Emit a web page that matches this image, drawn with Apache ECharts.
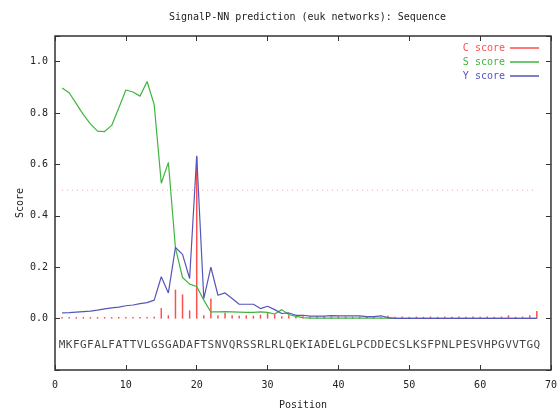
<!DOCTYPE html>
<html>
<head>
<meta charset="utf-8">
<script src="https://cdn.jsdelivr.net/npm/echarts@6/dist/echarts.min.js"></script>
<style>
  html, body { margin: 0; padding: 0; background: #fff; }
  #chart { width: 560px; height: 415px; }
</style>
</head>
<body>
<div id="chart"></div>
<script>
const sequence = 'MKFGFALFATTVLGSGADAFTSNVQRSSRLRLQEKIADELGLPCDDECSLKSFPNLPESVHPGVVTGQ'.split('');
const positions = sequence.map((_, i) => i + 1);

const cScore = [
    0.006, 0.006, 0.006, 0.006, 0.006, 0.006, 0.006, 0.006, 0.006, 0.006,
    0.006, 0.006, 0.006, 0.007, 0.041, 0.013, 0.113, 0.094, 0.032, 0.630,
    0.013, 0.078, 0.013, 0.023, 0.013, 0.011, 0.013, 0.011, 0.015, 0.023,
    0.017, 0.009, 0.013, 0.009, 0.009, 0.007, 0.009, 0.009, 0.008, 0.009,
    0.008, 0.007, 0.008, 0.007, 0.010, 0.007, 0.011, 0.007, 0.008, 0.007,
    0.008, 0.007, 0.008, 0.007, 0.008, 0.007, 0.008, 0.007, 0.008, 0.007,
    0.008, 0.007, 0.008, 0.013, 0.007, 0.008, 0.013, 0.030
];
const sScore = [
    0.898, 0.879, 0.837, 0.794, 0.758, 0.730, 0.728, 0.752, 0.820, 0.890,
    0.882, 0.866, 0.923, 0.833, 0.527, 0.608, 0.275, 0.160, 0.134, 0.125,
    0.072, 0.026, 0.026, 0.027, 0.026, 0.025, 0.024, 0.024, 0.026, 0.024,
    0.018, 0.035, 0.016, 0.009, 0.004, 0.002, 0.002, 0.002, 0.002, 0.002,
    0.002, 0.002, 0.002, 0.002, 0.002, 0.002, 0.002, 0.001, 0.001, 0.001,
    0.001, 0.001, 0.001, 0.001, 0.001, 0.001, 0.001, 0.001, 0.001, 0.001,
    0.001, 0.001, 0.001, 0.001, 0.001, 0.001, 0.001, 0.001
];
const yScore = [
    0.022, 0.023, 0.025, 0.027, 0.029, 0.033, 0.038, 0.042, 0.045, 0.050,
    0.053, 0.058, 0.062, 0.072, 0.163, 0.100, 0.277, 0.250, 0.156, 0.634,
    0.078, 0.200, 0.091, 0.100, 0.078, 0.056, 0.056, 0.056, 0.039, 0.048,
    0.035, 0.020, 0.022, 0.013, 0.013, 0.010, 0.010, 0.010, 0.012, 0.011,
    0.011, 0.011, 0.011, 0.008, 0.008, 0.011, 0.004, 0.001, 0.001, 0.001,
    0.001, 0.001, 0.001, 0.001, 0.001, 0.001, 0.001, 0.001, 0.001, 0.001,
    0.001, 0.001, 0.001, 0.001, 0.001, 0.001, 0.001, 0.001
];
const threshold = 0.5;
const seqRow = -0.105;

const font = 'DejaVu Sans Mono';
const cColor = '#ff4f4f';
const sColor = '#3fb53f';
const yColor = '#5656b8';

const chart = echarts.init(document.getElementById('chart'));

const xAxisBase = {
    type: 'value', min: 0, max: 70, interval: 10,
    axisLine: { show: false, onZero: false },
    axisTick: { inside: true, length: 5, lineStyle: { color: '#333', width: 1 } },
    splitLine: { show: false },
};
const yAxisBase = {
    type: 'value', min: -0.2, max: 1.1, interval: 0.2,
    axisLine: { show: false, onZero: false },
    axisTick: { inside: true, length: 5, lineStyle: { color: '#333', width: 1 } },
    splitLine: { show: false },
};

chart.setOption({
    animation: false,
    textStyle: { fontFamily: font },
    title: {
        text: 'SignalP-NN prediction (euk networks): Sequence',
        left: 164, top: 7,
        textStyle: { fontFamily: font, fontSize: 10, fontWeight: 'normal', color: '#222' },
    },
    legend: {
        orient: 'vertical', right: 16, top: 38, align: 'right',
        itemWidth: 29, itemHeight: 1.5, itemGap: 4, icon: 'rect',
        textStyle: { fontFamily: font, fontSize: 10 },
        data: [
            { name: 'C score', textStyle: { color: cColor } },
            { name: 'S score', textStyle: { color: sColor } },
            { name: 'Y score', textStyle: { color: yColor } },
        ],
    },
    grid: {
        left: 55, right: 6, top: 36, bottom: 45,
        show: true, borderColor: '#333', borderWidth: 1.5,
    },
    xAxis: [
        Object.assign({}, xAxisBase, {
            position: 'bottom',
            name: 'Position', nameLocation: 'middle', nameGap: 30,
            nameTextStyle: { fontFamily: font, fontSize: 10, color: '#222' },
            axisLabel: { margin: 10, fontFamily: font, fontSize: 10, color: '#222' },
        }),
        Object.assign({}, xAxisBase, { position: 'top', axisLabel: { show: false } }),
    ],
    yAxis: [
        Object.assign({}, yAxisBase, {
            position: 'left',
            name: 'Score', nameLocation: 'middle', nameGap: 30, nameMoveOverlap: false,
            nameTextStyle: { fontFamily: font, fontSize: 10, color: '#222' },
            axisLabel: {
                margin: 7, fontFamily: font, fontSize: 10, color: '#222',
                formatter: v => (v < -0.01 || v > 1.01) ? '' : v.toFixed(1),
            },
        }),
        Object.assign({}, yAxisBase, { position: 'right', axisLabel: { show: false } }),
    ],
    series: [
        {
            name: 'C score', type: 'bar', barWidth: 1.5,
            itemStyle: { color: cColor },
            data: positions.map((p, i) => [p, cScore[i]]),
        },
        {
            name: 'threshold', type: 'line', symbol: 'none', silent: true,
            lineStyle: { color: '#f3a0a8', width: 1, type: [1, 4] },
            data: [[positions[0], threshold], [positions[positions.length - 1], threshold]],
        },
        {
            name: 'S score', type: 'line', symbol: 'none',
            lineStyle: { color: sColor, width: 1.2 }, itemStyle: { color: sColor },
            data: positions.map((p, i) => [p, sScore[i]]),
        },
        {
            name: 'Y score', type: 'line', symbol: 'none',
            lineStyle: { color: yColor, width: 1.2 }, itemStyle: { color: yColor },
            data: positions.map((p, i) => [p, yScore[i]]),
        },
        {
            name: 'sequence', type: 'scatter', symbolSize: 0, silent: true,
            label: {
                show: true, position: 'inside',
                formatter: p => p.value[2],
                fontFamily: font, fontSize: 11, color: '#111',
            },
            data: positions.map((p, i) => [p, seqRow, sequence[i]]),
        },
    ],
});
</script>
</body>
</html>
